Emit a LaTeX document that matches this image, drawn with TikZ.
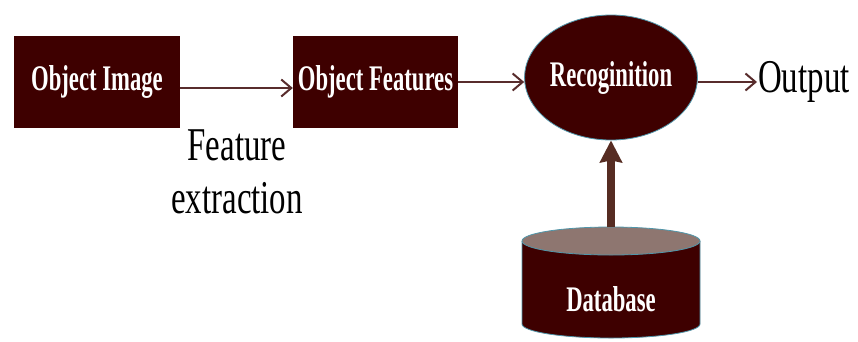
\documentclass[tikz,border=0pt]{standalone}
\usepackage{fontspec}
\setmainfont{Liberation Serif}[FakeStretch=0.7,BoldFeatures={FakeStretch=0.63}]
\usepackage{tikz}
\usetikzlibrary{arrows.meta,positioning,shapes.geometric}
\definecolor{blkfill}{RGB}{62,0,0}
\definecolor{arrc}{RGB}{88,44,44}
\definecolor{dbarrc}{RGB}{86,44,34}
\definecolor{rim}{RGB}{80,150,170}
\definecolor{captop}{RGB}{142,118,112}

\begin{document}
\begin{tikzpicture}[x=1pt,y=-1pt,
  blk/.style={fill=blkfill,text=white,font=\fontsize{36}{40}\selectfont\bfseries,
    minimum width=166pt,minimum height=92pt,inner sep=0pt},
  recog/.style={ellipse,fill=blkfill,draw=rim,line width=0.8pt,text=white,
    font=\fontsize{36}{40}\selectfont\bfseries,minimum width=162pt,minimum height=125pt,inner sep=0pt},
  plain/.style={font=\fontsize{47}{53}\selectfont,inner sep=1pt},
  arr/.style={draw=arrc,line width=2pt,-{Straight Barb[length=10pt,width=17pt,line width=2pt]}},
  dbarr/.style={draw=dbarrc,line width=8pt,-{Stealth[length=22pt,width=22pt,inset=2pt]}}]
  \useasboundingbox (0,0) rectangle (858,341);
  % blocks
  \node[blk] (img) at (97,82) {Object Image};
  \node[blk,minimum width=165pt] (feat) at (375.5,82) {Object Features};
  \node[recog] (rec) at (611,77.5) {Recoginition};
  \node[plain,anchor=west] (out) at (757,82) {Output};
  \node[plain,align=center] (fext) at (237,172) {Feature\\extraction};
  % database cylinder
  \fill[blkfill] (522,241) -- (522,324) arc[start angle=180,end angle=0,x radius=89,y radius=14]
    -- (700,241) -- cycle;
  \draw[rim,line width=0.8pt] (522,241) -- (522,324) arc[start angle=180,end angle=0,x radius=89,y radius=14]
    -- (700,241);
  \filldraw[fill=captop,draw=rim,line width=0.8pt] (611,241) ellipse[x radius=89,y radius=14];
  \node[text=white,font=\fontsize{36}{40}\selectfont\bfseries] (db) at (611,299) {Database};
  \coordinate (dbtop) at (611,227);
  % connectors
  \draw[arr] ([yshift=-6pt]img.east) -- ([yshift=-6pt]feat.west);
  \draw[arr] (feat.east) -- (feat.east -| rec.west);
  \draw[arr] (rec.east |- out.west) -- (out.west);
  \draw[dbarr] (dbtop) -- (rec.south);
\end{tikzpicture}
\end{document}
